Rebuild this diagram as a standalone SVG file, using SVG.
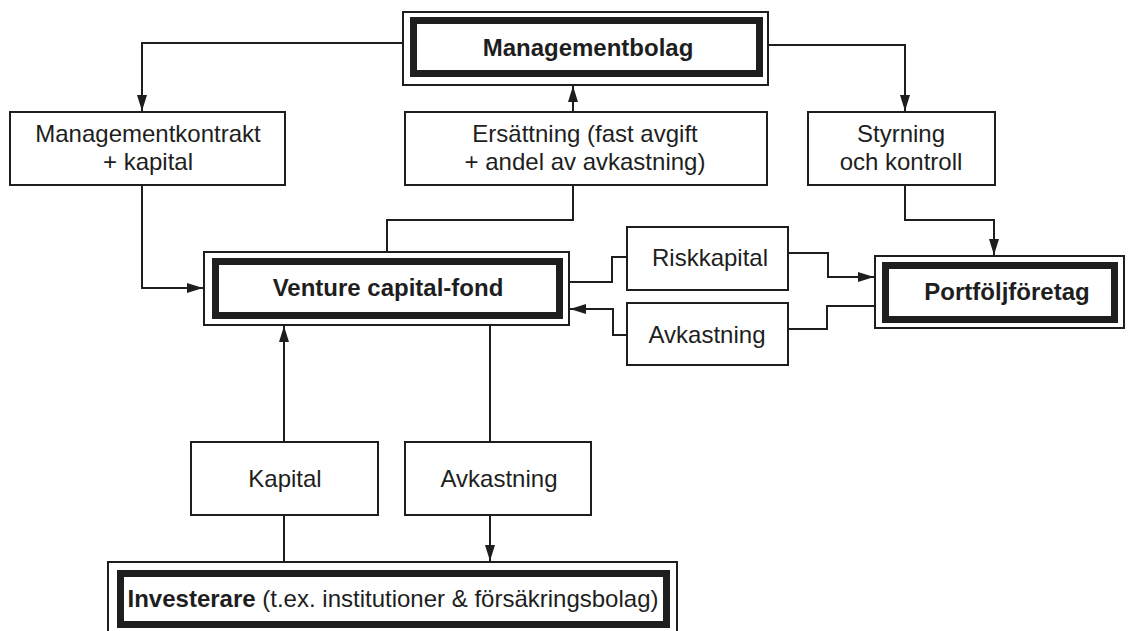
<svg xmlns="http://www.w3.org/2000/svg" width="1128" height="631" viewBox="0 0 1128 631">
<style>
.bg{fill:#fff}
.box{fill:#fff;stroke:#1e1e1e;stroke-width:2}
.outer{fill:#fff;stroke:#1e1e1e;stroke-width:2}
.thick{fill:#fff;stroke:#1e1e1e;stroke-width:7}
.t{font-family:"Liberation Sans",Arial,sans-serif;font-size:24px;fill:#1e1e1e;text-anchor:middle}
.b{font-weight:bold}
.c{fill:none;stroke:#1e1e1e;stroke-width:2}
</style>
<defs>
<marker id="ah" markerUnits="userSpaceOnUse" markerWidth="16" markerHeight="10" refX="16" refY="5" orient="auto">
<path d="M0,0 L16,5 L0,10 z" fill="#1e1e1e"/>
</marker>
</defs>
<rect class="bg" x="0" y="0" width="1128" height="631"/>
<g id="connectors">
<path class="c" d="M403,43 H142 V111" marker-end="url(#ah)"/>
<path class="c" d="M768,45 H905 V111" marker-end="url(#ah)"/>
<path class="c" d="M573,112 V86" marker-end="url(#ah)"/>
<path class="c" d="M387,252 V220 H573 V185"/>
<path class="c" d="M142,185 V288 H203" marker-end="url(#ah)"/>
<path class="c" d="M905,185 V220 H994 V255" marker-end="url(#ah)"/>
<path class="c" d="M569,282 H612 V257 H627"/>
<path class="c" d="M788,253 H828 V277 H874" marker-end="url(#ah)"/>
<path class="c" d="M875,306 H827 V329 H788"/>
<path class="c" d="M627,335 H613 V309 H570" marker-end="url(#ah)"/>
<path class="c" d="M284,442 V326" marker-end="url(#ah)"/>
<path class="c" d="M284,562 V515"/>
<path class="c" d="M490,325 V442"/>
<path class="c" d="M490,515 V561" marker-end="url(#ah)"/>
</g>
<g id="managementbolag">
<rect class="outer" x="403" y="12" width="365" height="73"/>
<rect class="thick" x="413.5" y="20.5" width="346" height="53"/>
<text class="t b" x="588" y="56">Managementbolag</text>
</g>
<g id="managementkontrakt">
<rect class="box" x="10" y="112" width="275" height="73"/>
<text class="t" x="148" y="142">Managementkontrakt</text>
<text class="t" x="148" y="170">+ kapital</text>
</g>
<g id="ersattning">
<rect class="box" x="405" y="112" width="362" height="73"/>
<text class="t" x="585" y="142">Ersättning (fast avgift</text>
<text class="t" x="585" y="170">+ andel av avkastning)</text>
</g>
<g id="styrning">
<rect class="box" x="808" y="112" width="187" height="73"/>
<text class="t" x="901" y="142">Styrning</text>
<text class="t" x="901" y="170">och kontroll</text>
</g>
<g id="venture">
<rect class="outer" x="204" y="252" width="365" height="73"/>
<rect class="thick" x="215.5" y="261.5" width="344" height="54"/>
<text class="t b" x="388" y="296">Venture capital-fond</text>
</g>
<g id="riskkapital">
<rect class="box" x="627" y="227" width="161" height="63"/>
<text class="t" x="710" y="266">Riskkapital</text>
</g>
<g id="avkastning-right">
<rect class="box" x="627" y="303" width="161" height="62"/>
<text class="t" x="707" y="343">Avkastning</text>
</g>
<g id="portfolj">
<rect class="outer" x="875" y="256" width="249" height="72"/>
<rect class="thick" x="885.5" y="265.5" width="229" height="54"/>
<text class="t b" x="1007" y="300">Portföljföretag</text>
</g>
<g id="kapital">
<rect class="box" x="191" y="442" width="187" height="73"/>
<text class="t" x="285" y="487">Kapital</text>
</g>
<g id="avkastning-bottom">
<rect class="box" x="405" y="442" width="186" height="73"/>
<text class="t" x="499" y="487">Avkastning</text>
</g>
<g id="investerare">
<rect class="outer" x="108" y="562" width="569" height="74"/>
<rect class="thick" x="120.5" y="573.5" width="546" height="51"/>
<text class="t" x="393" y="607"><tspan class="b">Investerare</tspan> (t.ex. institutioner &amp; försäkringsbolag)</text>
</g>
</svg>
